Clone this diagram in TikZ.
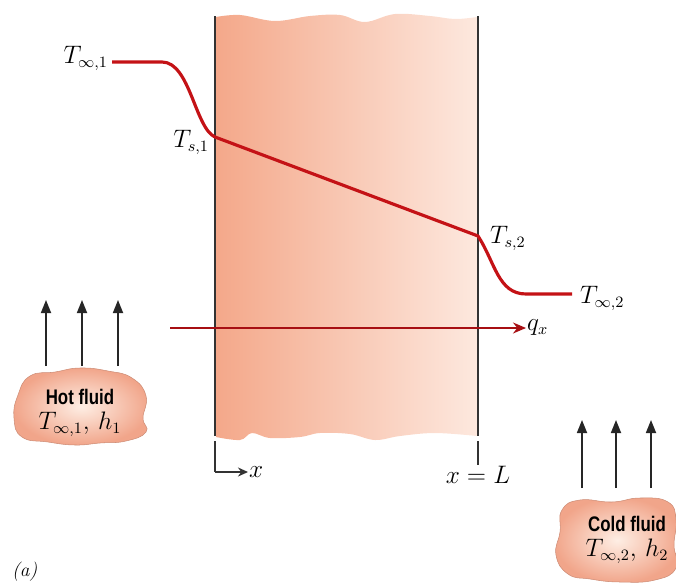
\documentclass[tikz,border=0pt]{standalone}
\usepackage{amsmath,amssymb}
\usepackage{fontspec}
\newfontfamily\fluidfont{Liberation Sans}[FakeStretch=0.8]
\usetikzlibrary{arrows.meta,positioning}
\definecolor{slabdark}{RGB}{244,168,138}
\definecolor{slablight}{RGB}{253,232,222}
\definecolor{profred}{RGB}{196,18,22}
\definecolor{blobedge}{RGB}{241,165,138}
\definecolor{blobcore}{RGB}{254,238,228}

\begin{document}
\begin{tikzpicture}[x=0.02cm,y=-0.02cm]
\tikzset{
  templabel/.style={inner sep=1pt,font=\fontsize{13.5}{16}\selectfont},
  wall/.style={draw=black!80,line width=0.9pt},
  profile/.style={draw=profred,line width=1.8pt,line join=round},
  flow/.style={-{Triangle[length=2.6mm,width=2mm]},line width=1pt,black!85},
  heatflow/.style={-{Stealth[length=2.6mm,width=2.2mm]},draw=profred!85!black,line width=0.8pt},
  fluidtext/.style={align=center,inner sep=0pt,font=\fluidfont\bfseries\fontsize{12}{13}\selectfont},
  blob/.style={inner color=blobcore,outer color=blobedge,draw=blobedge!85!black,line width=0.3pt}
}
\useasboundingbox (0,0) rectangle (676,585);
% slab with wavy ends
\shade[left color=slabdark,right color=slablight]
  plot[smooth,tension=0.6] coordinates {(216,17) (240,15) (275,21) (310,16) (340,15) (365,22) (395,14) (430,16) (455,19) (477,17)}
  -- plot[smooth,tension=0.6] coordinates {(477,436) (435,433) (400,436) (375,440) (350,434) (320,433) (300,437) (270,438) (252,433) (240,440) (216,437)}
  -- cycle;
% walls
\coordinate (w1_top) at (215,16);
\coordinate (w1_bot) at (215,436);
\coordinate (w2_top) at (478,16);
\coordinate (w2_bot) at (478,436);
\draw[wall] (w1_top) -- (w1_bot);
\draw[wall] (w2_top) -- (w2_bot);
% x axis marks
\coordinate (x_0) at (215,441);
\coordinate (x_c) at (215,472);
\coordinate (x_L) at (478,441);
\coordinate (x_Lb) at (478,465);
\node[templabel,anchor=west,inner sep=0.5pt] (x_lab) at (248,472) {$x$};
\node[templabel,anchor=north] (xL_lab) at (478,464) {$x = L$};
\draw[wall] (x_0) -- (x_c);
\draw[wall] (x_L) -- (x_Lb);
\draw[wall,-{Stealth[length=2mm,width=1.8mm]}] (x_c) -- (x_lab.west);
% temperature profile
\coordinate (p_a) at (112,62);
\coordinate (p_s1) at (215,137);
\coordinate (p_s2) at (478,236);
\coordinate (p_b) at (572,294);
\draw[profile] (p_a) -- (162,62) .. controls (190,62) and (195,128) .. (p_s1)
  -- (p_s2) .. controls (495,262) and (498,294) .. (526,294) -- (p_b);
\node[templabel,anchor=east] (t_inf1) at (110,58) {$T_{\infty,1}$};
\node[templabel,anchor=east] (t_s1) at (211,142) {$T_{s,1}$};
\node[templabel,anchor=west] (t_s2) at (488,238) {$T_{s,2}$};
\node[templabel,anchor=west] (t_inf2) at (578,298) {$T_{\infty,2}$};
% heat rate
\node[templabel,anchor=west,inner sep=0.5pt] (q_lab) at (526,328) {$q_x$};
\coordinate (q_start) at (170,0 |- q_lab.west);
\draw[heatflow] (q_start) -- (q_lab.west);
% hot fluid
\draw[blob] plot[smooth cycle,tension=0.8] coordinates {(18,395) (30,376) (55,372) (80,368) (108,371) (132,378) (146,396) (143,418) (146,432) (126,441) (100,443) (75,445) (48,442) (22,437) (14,418)};
\node[fluidtext] (hot) at (80,413) {Hot fluid\\[1pt]\fontsize{13.5}{15}\selectfont$T_{\infty,1},\,h_1$};
\foreach \xx in {46,82,118} {
  \coordinate (h_lo) at (\xx,366);
  \coordinate (h_hi) at (\xx,300);
  \draw[flow] (h_lo) -- (h_hi);
}
% cold fluid
\draw[blob] plot[smooth cycle,tension=0.8] coordinates {(562,510) (580,500) (612,502) (640,498) (668,502) (676,520) (674,545) (676,568) (655,580) (620,582) (590,579) (568,574) (556,555) (560,532)};
\node[fluidtext] (cold) at (627,540) {Cold fluid\\[1pt]\fontsize{13.5}{15}\selectfont$T_{\infty,2},\,h_2$};
\foreach \xx in {582,616,651} {
  \coordinate (c_lo) at (\xx,488);
  \coordinate (c_hi) at (\xx,420);
  \draw[flow] (c_lo) -- (c_hi);
}
\node[templabel,anchor=west,font=\itshape\fontsize{11}{13}\selectfont] (part_a) at (10,572) {(a)};
\end{tikzpicture}
\end{document}
